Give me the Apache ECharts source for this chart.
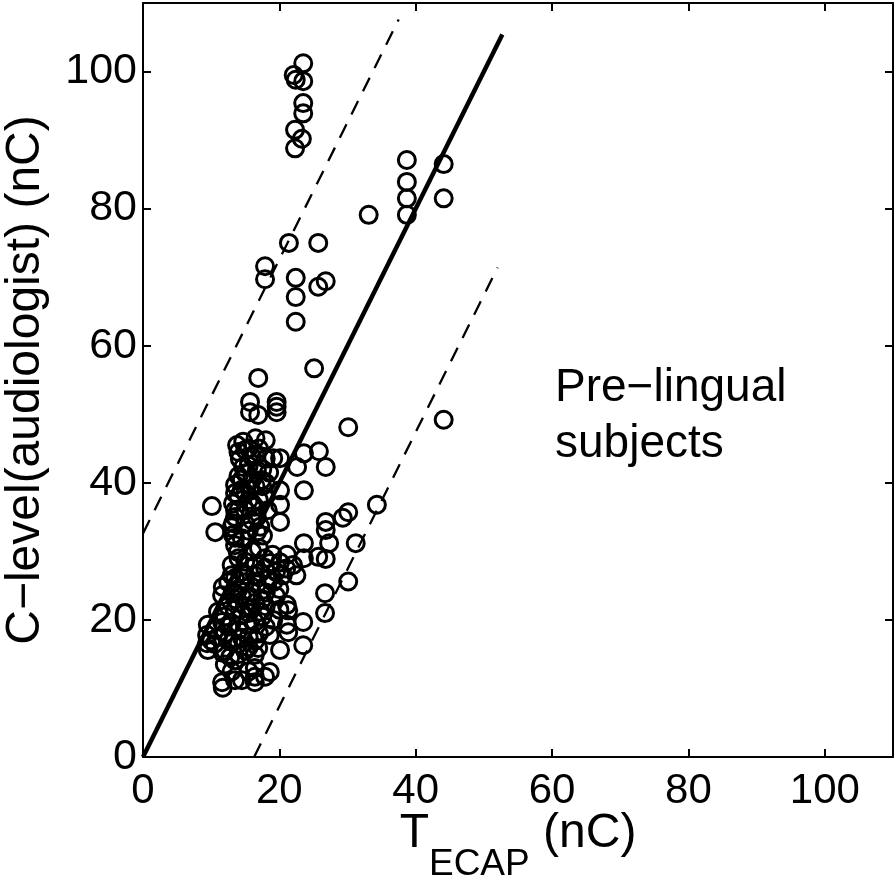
<!DOCTYPE html>
<html>
<head>
<meta charset="utf-8">
<script src="https://cdn.jsdelivr.net/npm/echarts@6/dist/echarts.min.js"></script>
<style>
html, body { margin: 0; padding: 0; background: #fff; }
#chart { width: 896px; height: 876px; }
</style>
</head>
<body>
<div id="chart"></div>
<script>
// T_ECAP (x) vs C-level (y)
var xRange = [0, 110];
var yRange = [0, 110];
var tickStep = 20;

var scatterPoints = [
    // top cluster near 22-23 nC
    [23.5, 101.2], [22.1, 99.5], [22.4, 98.8], [23.5, 98.6], [23.5, 95.4], [23.5, 93.9],
    [22.3, 91.5], [23.3, 90.2], [22.3, 88.8],
    // upper right
    [38.7, 87.1], [38.7, 83.9], [38.7, 81.5], [38.7, 79.1], [44.1, 86.5], [44.1, 81.5], [33.1, 79.1],
    [21.4, 75.0], [25.7, 75.0], [17.9, 71.6], [17.9, 69.7], [22.4, 69.9], [26.8, 69.4], [25.7, 68.6],
    [22.4, 67.1], [22.4, 63.5],
    [25.1, 56.7], [16.9, 55.3], [15.7, 51.8], [15.7, 50.3], [16.9, 49.9], [19.6, 51.8], [19.6, 51.1], [19.6, 50.3],
    [30.1, 48.1], [44.1, 49.2], [25.8, 44.6], [26.8, 42.3], [23.6, 44.3], [23.6, 38.9],
    [34.3, 36.8], [30.1, 35.7], [29.3, 34.9], [26.8, 34.3], [26.8, 33.1], [27.3, 31.2], [31.2, 31.2],
    [23.6, 31.2], [23.6, 29.0], [25.7, 29.2], [26.8, 28.9], [30.1, 25.6],
    // middle cluster
    [14.7, 46.0], [18.0, 46.2], [15.0, 44.8], [16.0, 43.8], [14.7, 42.3], [15.0, 41.4], [16.7, 41.9],
    [17.4, 40.4], [20.1, 43.6], [19.1, 43.6], [22.6, 42.3], [20.1, 38.9], [20.1, 36.8], [20.1, 34.3],
    [13.5, 39.7], [13.5, 38.5], [15.7, 39.0], [13.2, 37.0], [13.5, 36.0], [13.5, 35.0], [13.2, 34.1],
    [16.4, 36.5], [16.7, 35.0], [10.1, 36.6], [17.2, 33.6], [10.6, 32.8],
    [17.0, 45.0], [16.0, 40.5], [17.8, 38.0], [18.3, 36.0], [14.2, 43.5], [15.5, 37.5], [18.5, 41.5],
    [13.0, 33.5], [15.0, 34.0], [14.0, 36.0], [15.0, 38.5], [16.5, 39.5], [14.5, 40.5], [17.0, 37.5],
    [18.0, 43.5], [16.5, 46.5], [15.5, 45.0], [17.5, 42.0], [14.0, 38.0],
    [14.0, 44.5], [15.5, 42.5], [16.5, 44.0], [14.5, 39.0], [16.0, 37.0], [15.0, 36.0], [17.5, 39.5],
    [14.0, 41.0], [16.0, 34.5], [15.5, 33.0], [18.0, 40.0], [13.8, 45.5],
    // lower cluster
    [13.2, 32.4], [14.5, 31.9], [13.5, 30.9], [16.7, 32.8], [17.6, 32.3], [13.9, 29.9], [17.9, 29.0],
    [16.4, 26.5], [11.7, 24.8], [11.6, 23.6], [13.2, 24.1], [16.7, 25.2], [11.0, 21.2], [11.6, 19.7],
    [14.5, 20.7], [16.4, 19.7], [9.5, 19.3], [9.4, 17.8], [9.4, 16.6], [9.5, 15.6], [11.7, 15.2],
    [12.8, 14.6], [13.5, 14.1], [16.4, 14.9], [16.9, 15.9], [16.4, 13.0], [16.4, 11.7], [16.4, 10.9],
    [11.6, 10.9], [11.7, 10.1], [13.5, 11.2], [14.5, 11.2], [17.9, 11.7], [14.5, 17.4], [13.1, 16.8],
    [15.2, 19.3], [16.0, 21.7], [17.2, 21.2], [15.0, 25.5], [13.5, 26.1], [17.2, 26.9], [17.9, 27.6],
    [21.1, 29.5], [20.1, 28.4], [18.6, 28.3], [19.1, 25.5], [18.2, 25.1], [26.7, 23.9], [26.7, 21.0],
    [21.1, 22.2], [21.3, 21.4], [23.5, 19.7], [21.1, 19.3], [21.3, 18.2], [19.1, 20.0], [18.6, 17.8],
    [20.1, 15.6], [23.5, 16.3], [18.6, 12.4],
    [12.5, 22.0], [14.0, 22.5], [15.5, 23.5], [12.0, 18.0], [13.0, 19.5], [14.0, 18.5], [15.5, 17.5],
    [17.0, 18.0], [18.0, 19.0], [12.5, 17.0], [15.0, 15.5], [14.0, 15.0], [10.5, 18.5], [10.5, 16.5],
    [11.0, 17.5], [16.0, 24.0], [17.5, 23.0], [13.0, 28.0], [15.0, 28.5], [16.0, 30.0], [14.5, 27.0],
    [18.5, 26.0], [19.5, 27.0], [17.5, 20.5], [13.5, 21.5], [15.5, 21.0], [12.0, 15.5], [10.0, 17.0],
    [16.5, 28.0], [19.0, 29.5], [18.0, 24.0], [15.0, 26.5], [12.5, 25.5], [14.0, 24.5], [13.5, 32.0],
    [22.0, 28.0], [21.0, 27.5], [20.5, 26.5],
    [12.0, 20.5], [13.5, 23.0], [14.5, 23.5], [15.0, 22.0], [16.5, 22.5], [12.5, 19.0], [14.0, 16.5],
    [15.5, 16.0], [16.5, 17.0], [13.0, 26.5], [14.0, 29.0], [17.0, 30.5], [12.0, 13.5], [13.0, 12.5],
    [15.5, 12.5], [19.5, 23.5], [20.0, 21.5], [18.0, 22.0], [22.5, 26.5], [20.0, 24.5]
];

// regression line and +/- bounds (end points)
var fitLine = [[0, 0], [52.7, 105.4]];
var upperBound = [[0, 32.6], [37.5, 107.6]];
var lowerBound = [[16.3, 0], [52.0, 71.4]];

var dom = document.getElementById('chart');
var myChart = echarts.init(dom, null, {renderer: 'canvas'});

var font = 'Liberation Sans, Helvetica, Arial, sans-serif';

function boxAxis(pos) {
    var horiz = pos === 'top' || pos === 'bottom';
    return {
        type: 'value',
        position: pos,
        min: horiz ? xRange[0] : yRange[0],
        max: horiz ? xRange[1] : yRange[1],
        interval: tickStep,
        axisLine: {show: true, onZero: false, lineStyle: {color: '#000', width: 2}},
        axisTick: {show: true, inside: true, length: 8, lineStyle: {color: '#000', width: 2}},
        axisLabel: {show: false},
        splitLine: {show: false}
    };
}

var xBottom = boxAxis('bottom');
xBottom.axisLabel = {show: true, color: '#000', fontFamily: font, fontSize: 42, margin: 13, showMaxLabel: false};
xBottom.name = '{t|T}{s|ECAP}{p| (nC)}';
xBottom.nameLocation = 'middle';
xBottom.nameGap = 53;
xBottom.nameMoveOverlap = false;
xBottom.nameTextStyle = {
    color: '#000',
    rich: {
        t: {fontFamily: font, fontSize: 48, lineHeight: 50, verticalAlign: 'top', color: '#000'},
        s: {fontFamily: font, fontSize: 37, padding: [36, 0, 0, 0], verticalAlign: 'top', color: '#000'},
        p: {fontFamily: font, fontSize: 48, lineHeight: 50, verticalAlign: 'top', color: '#000'}
    }
};

var yLeft = boxAxis('left');
yLeft.axisLabel = {show: true, color: '#000', fontFamily: font, fontSize: 43, margin: 6, showMaxLabel: false};
yLeft.name = 'C\u2212level(audiologist) (nC)';
yLeft.nameLocation = 'middle';
yLeft.nameGap = 93;
yLeft.nameMoveOverlap = false;
yLeft.nameTextStyle = {color: '#000', fontFamily: font, fontSize: 48};

option = {
    animation: false,
    backgroundColor: '#fff',
    grid: {left: 143, top: 3, right: 3, bottom: 119, containLabel: false, outerBoundsMode: 'none'},
    xAxis: [xBottom, boxAxis('top')],
    yAxis: [yLeft, boxAxis('right')],
    graphic: [{
        type: 'text',
        left: 555,
        top: 360,
        style: {
            text: 'Pre\u2212lingual\nsubjects',
            font: '46px ' + font,
            fill: '#000',
            lineHeight: 56
        }
    }],
    series: [
        {
            type: 'line',
            data: fitLine,
            symbol: 'none',
            lineStyle: {color: '#000', width: 4.5},
            z: 3
        },
        {
            type: 'line',
            data: upperBound,
            symbol: 'none',
            lineStyle: {color: '#000', width: 2.3, type: [15, 11]},
            z: 3
        },
        {
            type: 'line',
            data: lowerBound,
            symbol: 'none',
            lineStyle: {color: '#000', width: 2.3, type: [15, 11]},
            z: 3
        },
        {
            type: 'scatter',
            data: scatterPoints,
            symbol: 'circle',
            symbolSize: 17,
            itemStyle: {color: 'rgba(0,0,0,0)', borderColor: '#000', borderWidth: 3, opacity: 1},
            z: 4
        }
    ]
};

myChart.setOption(option);
</script>
</body>
</html>
